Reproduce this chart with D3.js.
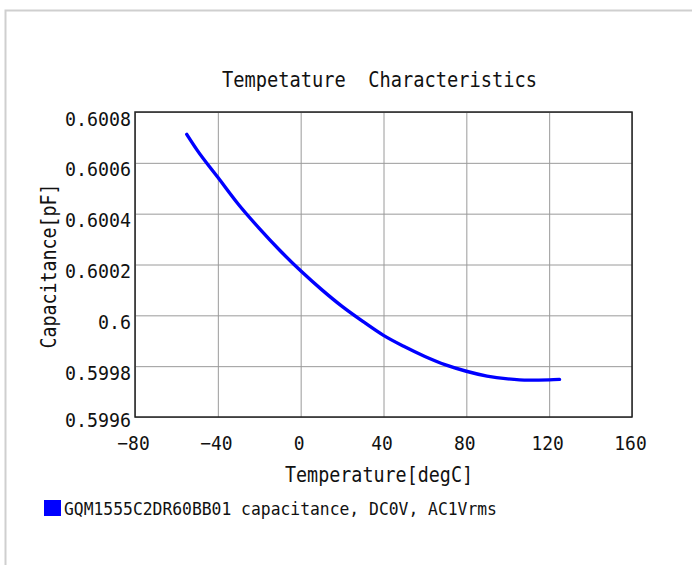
<!DOCTYPE html>
<html>
<head>
<meta charset="utf-8">
<script src="https://cdn.jsdelivr.net/npm/d3@7"></script>
<style>
  html, body { margin: 0; padding: 0; background: #fff; }
  svg { display: block; }
  text { font-family: "DejaVu Sans Mono", "Liberation Mono", monospace; fill: #111; }
</style>
</head>
<body>
<svg id="chart" width="692" height="565"></svg>
<script>
// ---- data ----
const chartTitle = "Tempetature  Characteristics";
const xTitle = "Temperature[degC]";
const yTitle = "Capacitance[pF]";
const seriesName = "GQM1555C2DR60BB01 capacitance, DC0V, AC1Vrms";
const xTicks = [-80, -40, 0, 40, 80, 120, 160];
const yTicks = [0.5996, 0.5998, 0.6, 0.6002, 0.6004, 0.6006, 0.6008];
const yTickLabels = ["0.5996", "0.5998", "0.6", "0.6002", "0.6004", "0.6006", "0.6008"];
const temperature = [-55, -50, -40, -30, -20, -10, 0, 10, 20, 30, 40, 50, 60, 70, 80, 90, 100, 110, 120, 125];
const capacitance = [0.600712, 0.600650, 0.600543, 0.600436, 0.600342, 0.600255, 0.600175, 0.600102, 0.600035,
  0.599976, 0.599921, 0.599877, 0.599838, 0.599805, 0.599780, 0.599761, 0.599750, 0.599745, 0.599746, 0.599748];

// ---- layout ----
const W = 692, H = 565;
const plot = { left: 135, right: 632, top: 112, bottom: 417 };
const svg = d3.select("#chart");

// outer frame
svg.append("path")
  .attr("d", `M5.5,${H} L5.5,10.5 L${W},10.5`)
  .attr("fill", "none").attr("stroke", "#cfcfcf").attr("stroke-width", 2);

const x = d3.scaleLinear().domain([-80, 160]).range([plot.left, plot.right]);
const y = d3.scaleLinear().domain([0.5996, 0.6008]).range([plot.bottom, plot.top]);

function condense(sel, pitch) {
  sel.each(function () {
    const t = d3.select(this);
    const n = t.text().length;
    t.attr("textLength", n * pitch).attr("lengthAdjust", "spacingAndGlyphs");
  });
}

// grid via axes
const gx = svg.append("g").attr("transform", `translate(0,${plot.bottom})`)
  .call(d3.axisBottom(x).tickValues(xTicks).tickSize(-(plot.bottom - plot.top))
    .tickFormat(d => d < 0 ? "\u2212" + Math.abs(d) : String(d)).tickPadding(0));
gx.select(".domain").remove();
gx.selectAll(".tick line").attr("stroke", "#9a9a9a").attr("stroke-width", 1);
gx.selectAll(".tick text")
  .attr("y", 33).attr("dy", null).attr("dx", -2)
  .style("font-size", "20px").attr("fill", "#111");
condense(gx.selectAll(".tick text"), 10.8);

const gy = svg.append("g").attr("transform", `translate(${plot.left},0)`)
  .call(d3.axisLeft(y).tickValues(yTicks).tickSize(-(plot.right - plot.left))
    .tickFormat((d, i) => yTickLabels[i]).tickPadding(4));
gy.select(".domain").remove();
gy.selectAll(".tick line").attr("stroke", "#9a9a9a").attr("stroke-width", 1);
gy.selectAll(".tick text")
  .attr("dy", null).attr("y", (d, i) => i === 0 ? 9 : 13).attr("x", -4)
  .style("font-size", "20px").attr("fill", "#111");
condense(gy.selectAll(".tick text"), 11);

// curve
const line = d3.line().x((d, i) => x(temperature[i])).y(d => y(d)).curve(d3.curveMonotoneX);
svg.append("path").datum(capacitance)
  .attr("d", line).attr("fill", "none")
  .attr("stroke", "#0000ff").attr("stroke-width", 3.4).attr("stroke-linecap", "round");

// plot border
svg.append("rect")
  .attr("x", plot.left).attr("y", plot.top)
  .attr("width", plot.right - plot.left).attr("height", plot.bottom - plot.top)
  .attr("fill", "none").attr("stroke", "#222").attr("stroke-width", 1.5);

// title
svg.append("text").attr("x", (plot.left + plot.right) / 2 - 4).attr("y", 87)
  .attr("text-anchor", "middle").style("font-size", "22px").style("white-space", "pre")
  .attr("xml:space", "preserve")
  .text(chartTitle).call(condense, 11.25);

// x title
svg.append("text").attr("x", 379).attr("y", 482)
  .attr("text-anchor", "middle").style("font-size", "22px")
  .text(xTitle).call(condense, 11.06);

// y title
svg.append("text").attr("transform", "translate(56,266) rotate(-90)")
  .attr("text-anchor", "middle").style("font-size", "22px")
  .text(yTitle).call(condense, 11);

// legend
svg.append("rect").attr("x", 44).attr("y", 500).attr("width", 17).attr("height", 16).attr("fill", "#0000ff");
svg.append("text").attr("x", 64).attr("y", 515)
  .style("font-size", "18px")
  .text(seriesName).call(condense, 9.84);
</script>
</body>
</html>
